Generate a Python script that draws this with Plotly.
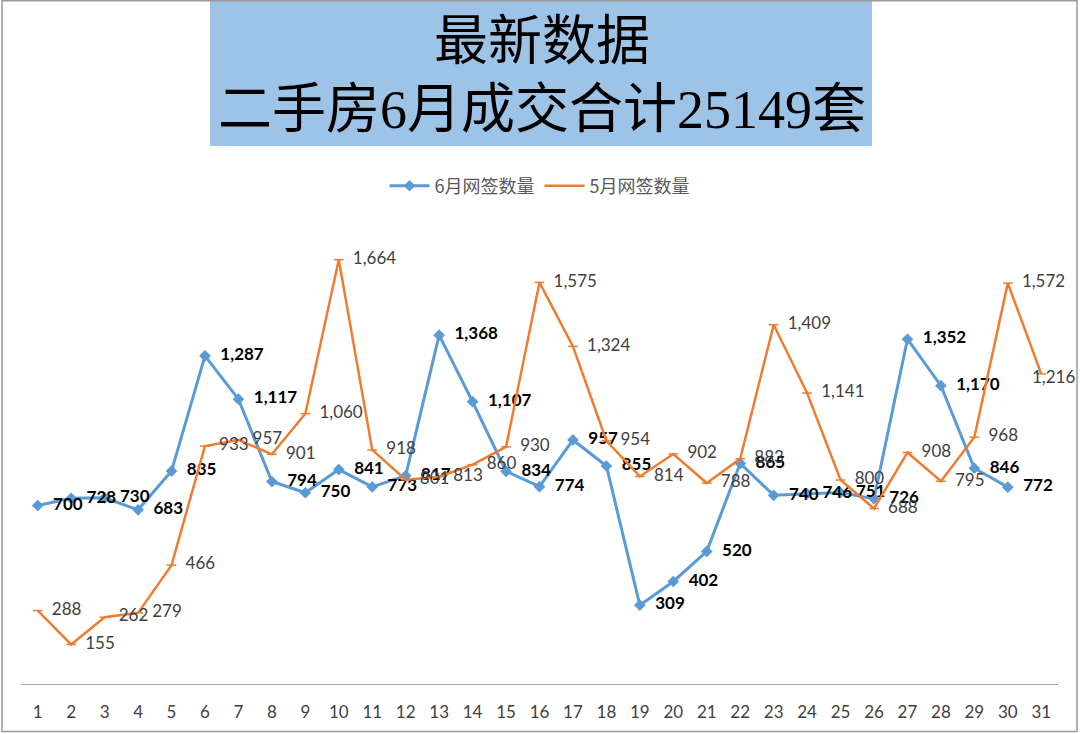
import plotly.graph_objects as go

# 日期与两个月的网签数据
days = list(range(1, 32))
june = [700, 728, 730, 683, 835, 1287, 1117, 794, 750, 841, 773, 817, 1368, 1107, 834,
        774, 957, 855, 309, 402, 520, 865, 740, 746, 751, 726, 1352, 1170, 846, 772]
may = [288, 155, 262, 279, 466, 933, 957, 901, 1060, 1664, 918, 801, 813, 860, 930,
       1575, 1324, 954, 814, 902, 788, 883, 1409, 1141, 800, 688, 908, 795, 968, 1572, 1216]
title_lines = ["最新数据", "二手房6月成交合计25149套"]

W, H = 1080, 734
ML, MR, MT, MB = 21, 22, 225, 49.5


def px(x):
    return (x - ML) / (W - ML - MR)


def py(y):
    return (H - MB - y) / (H - MT - MB)


font_num = "Lato, 'Noto Sans CJK SC', sans-serif"
pad = "\u00a0\u00a0"

# 最后一个点的标签贴边, 单独往左挪
may_tpl = [pad + "%{y:,}"] * len(may)
may_tpl[-1] = ""

fig = go.Figure()
fig.add_trace(go.Scatter(
    x=days[:len(june)], y=june, name="6月网签数量",
    mode="lines+markers+text",
    line=dict(color="#5B9BD5", width=3),
    marker=dict(symbol="diamond", size=9, color="#5B9BD5"),
    texttemplate=pad + "<b>%{y:,}</b>", textposition="middle right",
    textfont=dict(family=font_num, size=17, color="#000000"),
    cliponaxis=False,
))
fig.add_trace(go.Scatter(
    x=days[:len(may)], y=may, name="5月网签数量",
    mode="lines+markers+text",
    line=dict(color="#ED7D31", width=2.5),
    marker=dict(symbol="line-ew", size=7, line=dict(color="#ED7D31", width=1.5)),
    texttemplate=may_tpl, textposition="middle right",
    textfont=dict(family=font_num, size=17, color="#404040"),
    cliponaxis=False,
))
fig.add_annotation(x=days[len(may) - 1], y=may[-1], text=f"{may[-1]:,}",
                   showarrow=False, xanchor="left", yanchor="middle",
                   xshift=-11, yshift=-3,
                   font=dict(family=font_num, size=17, color="#404040"))

# 标题底框与外框
fig.add_shape(type="rect", xref="paper", yref="paper",
              x0=px(210), x1=px(872), y0=py(146), y1=py(0),
              fillcolor="#9DC3E6", line=dict(width=0), layer="below")
fig.add_shape(type="rect", xref="paper", yref="paper",
              x0=px(2), x1=px(1077), y0=py(732), y1=py(0.5),
              line=dict(color="#9a9a9a", width=1.5))

for txt, yy in zip(title_lines, [42, 110]):
    fig.add_annotation(text=txt, xref="paper", yref="paper",
                       x=px(542), y=py(yy), showarrow=False,
                       xanchor="center", yanchor="middle",
                       font=dict(family="'Liberation Serif', 'Noto Sans CJK SC', serif",
                                 size=54, color="#000000", weight="normal"))

fig.update_layout(
    width=W, height=H,
    margin=dict(l=ML, r=MR, t=MT, b=MB),
    paper_bgcolor="white", plot_bgcolor="white",
    showlegend=True,
    legend=dict(orientation="h", x=0.5, xanchor="center", y=py(186), yanchor="middle",
                font=dict(family="'Noto Sans CJK SC', sans-serif", size=18, color="#595959"),
                itemwidth=40),
    xaxis=dict(range=[0.5, 31.5], tickmode="array", tickvals=days,
               showgrid=False, zeroline=False, showline=True, linecolor="#a6a6a6",
               linewidth=1.2, ticks="", ticklabelstandoff=12,
               tickfont=dict(family=font_num, size=17, color="#404040")),
    yaxis=dict(range=[0, 1800], visible=False, showgrid=False),
)

fig.write_html("out.html", config={"displayModeBar": False},
               post_script="document.body.style.margin='0';")
